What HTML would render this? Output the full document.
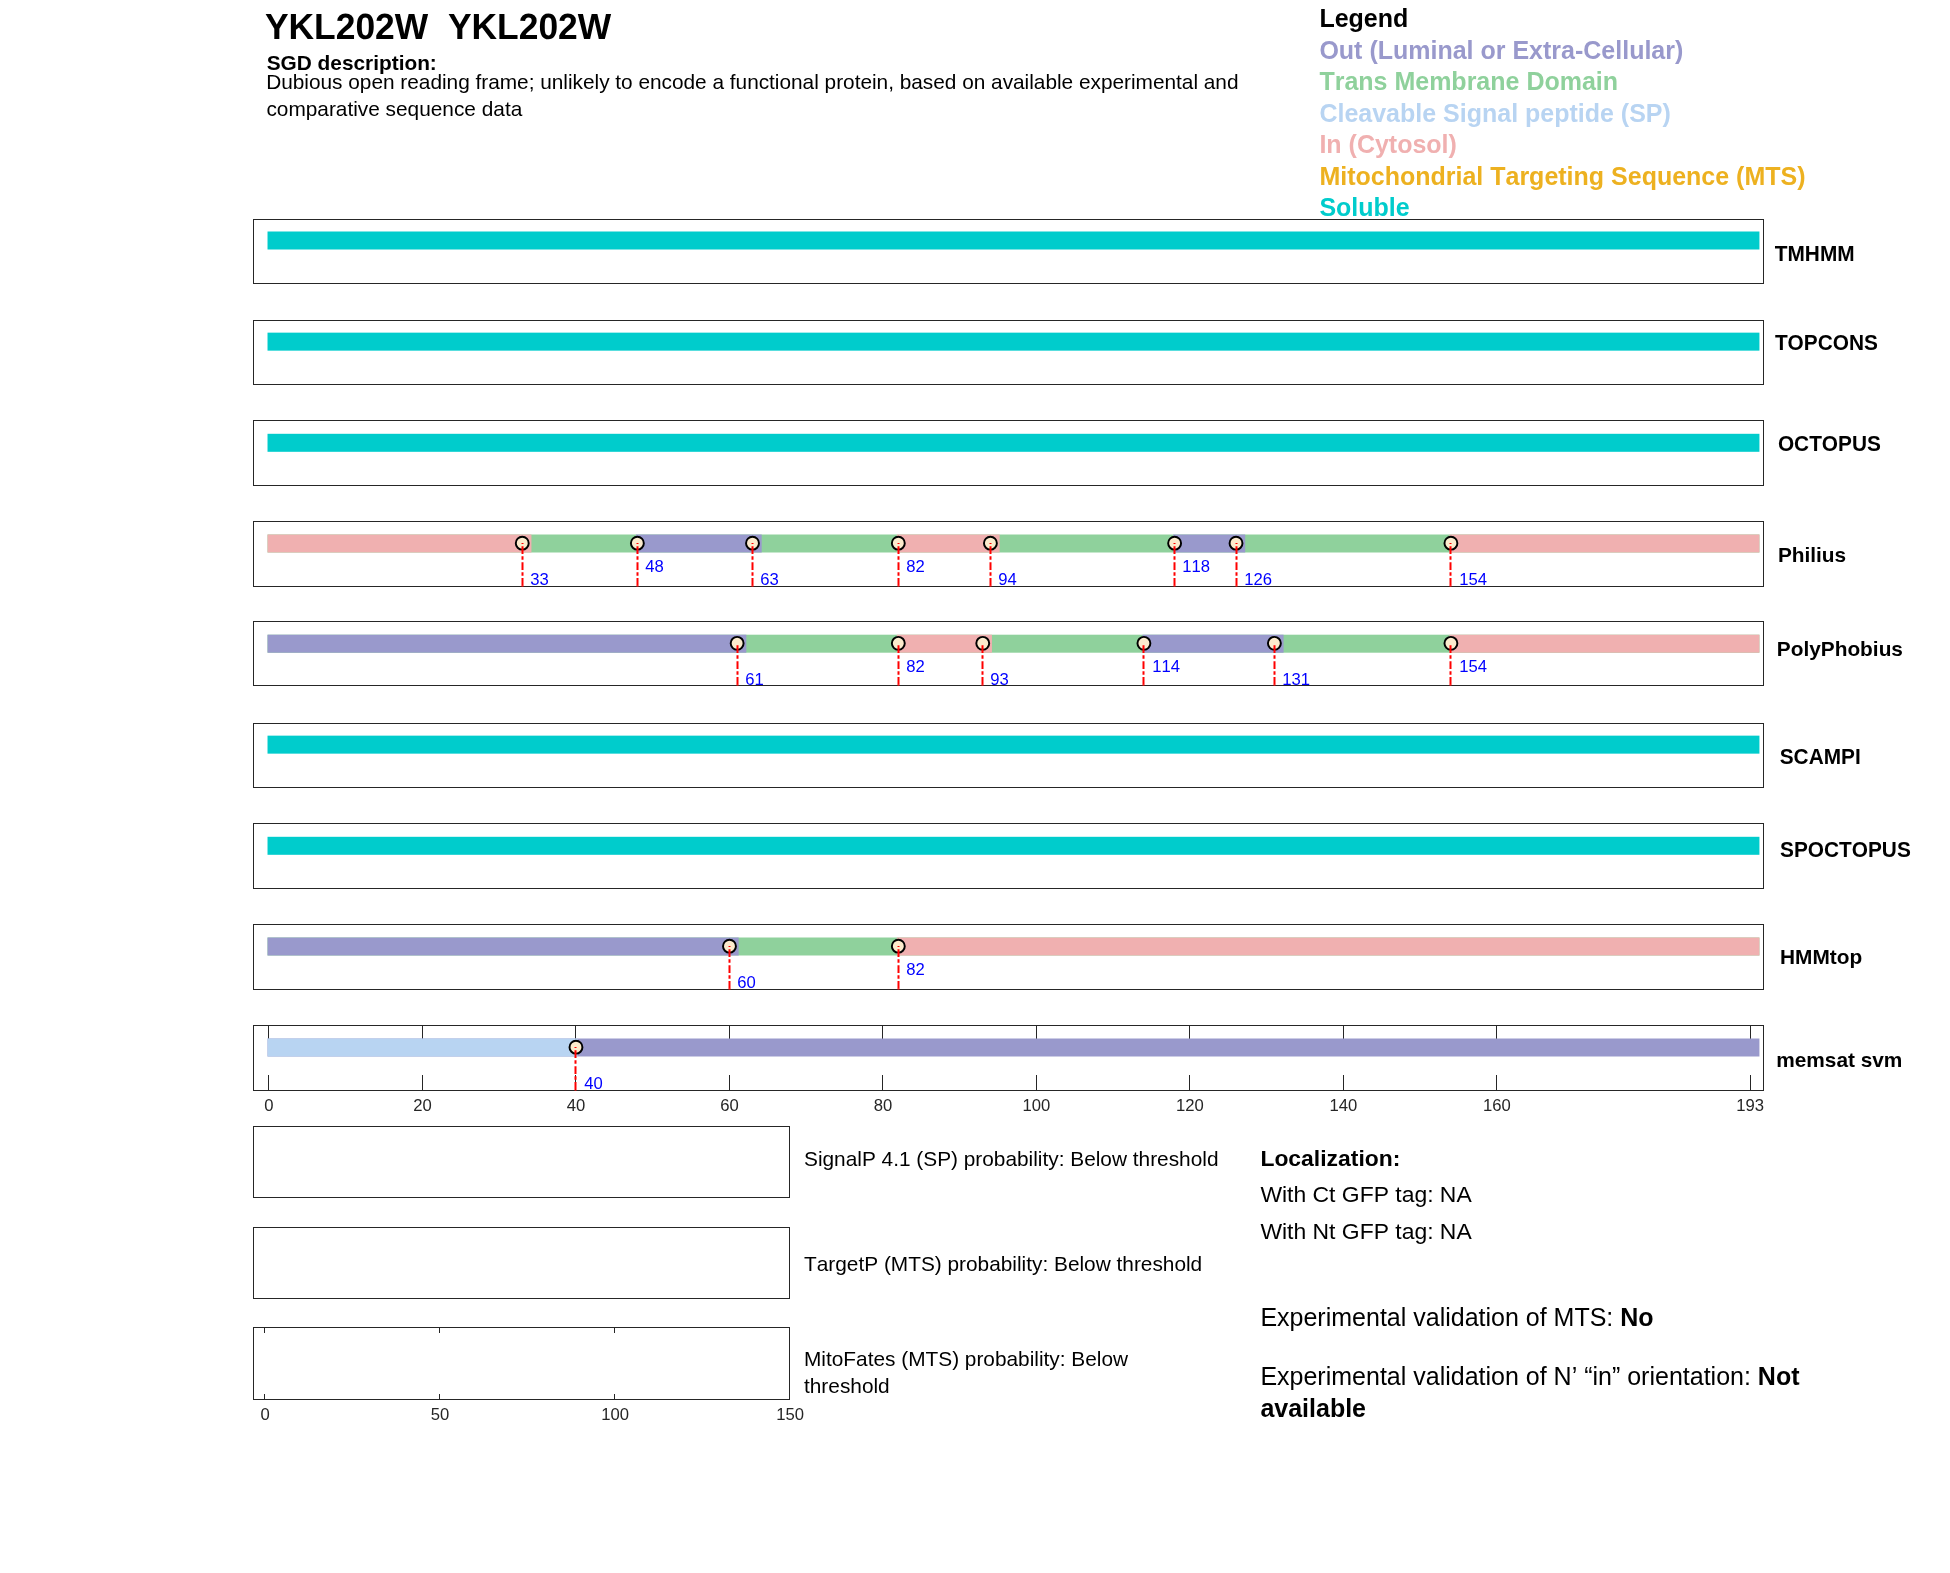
<!DOCTYPE html>
<html lang="en"><head><meta charset="utf-8"><title>YKL202W</title>
<style>html,body{margin:0;padding:0;background:#fff;overflow:hidden}svg{display:block;will-change:transform}text{font-family:"Liberation Sans",sans-serif;font-kerning:none}.b{font-weight:bold}.ax{fill:#262626}.tk{font-size:16.67px;fill:#262626}.ml{font-size:16.67px;fill:#0000ff}.rl{font-size:20.83px;font-weight:bold;fill:#000}.lg{font-size:25px;font-weight:bold}</style></head><body>
<svg width="1950" height="1573" viewBox="0 0 1950 1573">
<rect width="1950" height="1573" fill="#fff"/>
<text transform="translate(264.9,39) scale(1,1.030)" text-rendering="geometricPrecision" class="b" font-size="35.42">YKL202W  YKL202W</text>
<text x="266.7" y="70" class="b" font-size="20.83">SGD description:</text>
<text x="266.2" y="89" font-size="20.83" textLength="972.3" lengthAdjust="spacing">Dubious open reading frame; unlikely to encode a functional protein, based on available experimental and</text>
<text x="266.4" y="116" font-size="20.83">comparative sequence data</text>
<text x="1319.4" y="27" class="lg" fill="#000">Legend</text>
<text x="1319.4" y="59" class="lg" fill="#9999cc">Out (Luminal or Extra-Cellular)</text>
<text x="1319.4" y="90" class="lg" fill="#8fd19c">Trans Membrane Domain</text>
<text x="1319.4" y="122" class="lg" fill="#b8d4f2">Cleavable Signal peptide (SP)</text>
<text x="1319.4" y="153" class="lg" fill="#f0b0b0">In (Cytosol)</text>
<text x="1319.4" y="185" class="lg" fill="#edb120">Mitochondrial Targeting Sequence (MTS)</text>
<text x="1319.4" y="216" class="lg" fill="#00cccc">Soluble</text>
<rect x="253.5" y="219.5" width="1510" height="64" fill="none" stroke="#262626" stroke-width="1"/>
<rect x="267.52" y="231.50" width="1491.90" height="18.00" fill="#00cccc"/>
<text transform="translate(1774.80,261) scale(1,1.040)" class="rl">TMHMM</text>
<rect x="253.5" y="320.5" width="1510" height="64" fill="none" stroke="#262626" stroke-width="1"/>
<rect x="267.52" y="332.65" width="1491.90" height="18.00" fill="#00cccc"/>
<text transform="translate(1774.90,350) scale(1,1.040)" class="rl">TOPCONS</text>
<rect x="253.5" y="420.5" width="1510" height="65" fill="none" stroke="#262626" stroke-width="1"/>
<rect x="267.52" y="433.80" width="1491.90" height="18.00" fill="#00cccc"/>
<text transform="translate(1777.90,451) scale(1,1.040)" class="rl">OCTOPUS</text>
<rect x="253.5" y="521.5" width="1510" height="65" fill="none" stroke="#262626" stroke-width="1"/>
<rect x="267.52" y="534.50" width="1491.90" height="18.00" fill="#8fd19c"/>
<rect x="267.52" y="534.50" width="263.90" height="18.00" fill="#f0b0b0"/>
<rect x="635.92" y="534.50" width="125.75" height="18.00" fill="#9999cc"/>
<rect x="896.87" y="534.50" width="102.73" height="18.00" fill="#f0b0b0"/>
<rect x="1173.17" y="534.50" width="72.03" height="18.00" fill="#9999cc"/>
<rect x="1449.47" y="534.50" width="309.95" height="18.00" fill="#f0b0b0"/>
<circle cx="522.25" cy="543.15" r="6.45" fill="#fcebcd" stroke="#000" stroke-width="1.95"/>
<line x1="522.50" y1="585.85" x2="522.50" y2="543.05" stroke="#ff0000" stroke-width="2" stroke-dasharray="7.75 2.3 3.6 2.3"/>
<rect x="521.50" y="585.60" width="2" height="1" fill="#ff0000"/>
<text transform="translate(530.20,585) scale(1,1.040)" class="ml">33</text>
<circle cx="637.37" cy="543.15" r="6.45" fill="#fcebcd" stroke="#000" stroke-width="1.95"/>
<line x1="637.50" y1="585.85" x2="637.50" y2="543.05" stroke="#ff0000" stroke-width="2" stroke-dasharray="7.75 2.3 3.6 2.3"/>
<rect x="636.50" y="585.60" width="2" height="1" fill="#ff0000"/>
<text transform="translate(645.20,572) scale(1,1.040)" class="ml">48</text>
<circle cx="752.50" cy="543.15" r="6.45" fill="#fcebcd" stroke="#000" stroke-width="1.95"/>
<line x1="752.50" y1="585.85" x2="752.50" y2="543.05" stroke="#ff0000" stroke-width="2" stroke-dasharray="7.75 2.3 3.6 2.3"/>
<rect x="751.50" y="585.60" width="2" height="1" fill="#ff0000"/>
<text transform="translate(760.20,585) scale(1,1.040)" class="ml">63</text>
<circle cx="898.32" cy="543.15" r="6.45" fill="#fcebcd" stroke="#000" stroke-width="1.95"/>
<line x1="898.50" y1="585.85" x2="898.50" y2="543.05" stroke="#ff0000" stroke-width="2" stroke-dasharray="7.75 2.3 3.6 2.3"/>
<rect x="897.50" y="585.60" width="2" height="1" fill="#ff0000"/>
<text transform="translate(906.20,572) scale(1,1.040)" class="ml">82</text>
<circle cx="990.42" cy="543.15" r="6.45" fill="#fcebcd" stroke="#000" stroke-width="1.95"/>
<line x1="990.50" y1="585.85" x2="990.50" y2="543.05" stroke="#ff0000" stroke-width="2" stroke-dasharray="7.75 2.3 3.6 2.3"/>
<rect x="989.50" y="585.60" width="2" height="1" fill="#ff0000"/>
<text transform="translate(998.20,585) scale(1,1.040)" class="ml">94</text>
<circle cx="1174.62" cy="543.15" r="6.45" fill="#fcebcd" stroke="#000" stroke-width="1.95"/>
<line x1="1174.50" y1="585.85" x2="1174.50" y2="543.05" stroke="#ff0000" stroke-width="2" stroke-dasharray="7.75 2.3 3.6 2.3"/>
<rect x="1173.50" y="585.60" width="2" height="1" fill="#ff0000"/>
<text transform="translate(1182.20,572) scale(1,1.040)" class="ml">118</text>
<circle cx="1236.02" cy="543.15" r="6.45" fill="#fcebcd" stroke="#000" stroke-width="1.95"/>
<line x1="1236.50" y1="585.85" x2="1236.50" y2="543.05" stroke="#ff0000" stroke-width="2" stroke-dasharray="7.75 2.3 3.6 2.3"/>
<rect x="1235.50" y="585.60" width="2" height="1" fill="#ff0000"/>
<text transform="translate(1244.20,585) scale(1,1.040)" class="ml">126</text>
<circle cx="1450.92" cy="543.15" r="6.45" fill="#fcebcd" stroke="#000" stroke-width="1.95"/>
<line x1="1450.50" y1="585.85" x2="1450.50" y2="543.05" stroke="#ff0000" stroke-width="2" stroke-dasharray="7.75 2.3 3.6 2.3"/>
<rect x="1449.50" y="585.60" width="2" height="1" fill="#ff0000"/>
<text transform="translate(1459.20,585) scale(1,1.040)" class="ml">154</text>
<text x="1777.9" y="562" class="rl">Philius</text>
<rect x="253.5" y="621.5" width="1510" height="64" fill="none" stroke="#262626" stroke-width="1"/>
<rect x="267.52" y="634.70" width="1491.90" height="18.00" fill="#8fd19c"/>
<rect x="267.52" y="634.70" width="478.80" height="18.00" fill="#9999cc"/>
<rect x="896.87" y="634.70" width="95.05" height="18.00" fill="#f0b0b0"/>
<rect x="1142.47" y="634.70" width="141.10" height="18.00" fill="#9999cc"/>
<rect x="1449.47" y="634.70" width="309.95" height="18.00" fill="#f0b0b0"/>
<circle cx="737.14" cy="643.35" r="6.45" fill="#fcebcd" stroke="#000" stroke-width="1.95"/>
<line x1="737.50" y1="684.85" x2="737.50" y2="643.25" stroke="#ff0000" stroke-width="2" stroke-dasharray="7.75 2.3 3.6 2.3"/>
<rect x="736.50" y="684.60" width="2" height="1" fill="#ff0000"/>
<text transform="translate(745.20,685) scale(1,1.040)" class="ml">61</text>
<circle cx="898.32" cy="643.35" r="6.45" fill="#fcebcd" stroke="#000" stroke-width="1.95"/>
<line x1="898.50" y1="684.85" x2="898.50" y2="643.25" stroke="#ff0000" stroke-width="2" stroke-dasharray="7.75 2.3 3.6 2.3"/>
<rect x="897.50" y="684.60" width="2" height="1" fill="#ff0000"/>
<text transform="translate(906.20,672) scale(1,1.040)" class="ml">82</text>
<circle cx="982.75" cy="643.35" r="6.45" fill="#fcebcd" stroke="#000" stroke-width="1.95"/>
<line x1="982.50" y1="684.85" x2="982.50" y2="643.25" stroke="#ff0000" stroke-width="2" stroke-dasharray="7.75 2.3 3.6 2.3"/>
<rect x="981.50" y="684.60" width="2" height="1" fill="#ff0000"/>
<text transform="translate(990.20,685) scale(1,1.040)" class="ml">93</text>
<circle cx="1143.92" cy="643.35" r="6.45" fill="#fcebcd" stroke="#000" stroke-width="1.95"/>
<line x1="1143.50" y1="684.85" x2="1143.50" y2="643.25" stroke="#ff0000" stroke-width="2" stroke-dasharray="7.75 2.3 3.6 2.3"/>
<rect x="1142.50" y="684.60" width="2" height="1" fill="#ff0000"/>
<text transform="translate(1152.20,672) scale(1,1.040)" class="ml">114</text>
<circle cx="1274.39" cy="643.35" r="6.45" fill="#fcebcd" stroke="#000" stroke-width="1.95"/>
<line x1="1274.50" y1="684.85" x2="1274.50" y2="643.25" stroke="#ff0000" stroke-width="2" stroke-dasharray="7.75 2.3 3.6 2.3"/>
<rect x="1273.50" y="684.60" width="2" height="1" fill="#ff0000"/>
<text transform="translate(1282.20,685) scale(1,1.040)" class="ml">131</text>
<circle cx="1450.92" cy="643.35" r="6.45" fill="#fcebcd" stroke="#000" stroke-width="1.95"/>
<line x1="1450.50" y1="684.85" x2="1450.50" y2="643.25" stroke="#ff0000" stroke-width="2" stroke-dasharray="7.75 2.3 3.6 2.3"/>
<rect x="1449.50" y="684.60" width="2" height="1" fill="#ff0000"/>
<text transform="translate(1459.20,672) scale(1,1.040)" class="ml">154</text>
<text x="1776.8" y="656" class="rl">PolyPhobius</text>
<rect x="253.5" y="723.5" width="1510" height="64" fill="none" stroke="#262626" stroke-width="1"/>
<rect x="267.52" y="735.65" width="1491.90" height="18.00" fill="#00cccc"/>
<text transform="translate(1779.70,764) scale(1,1.040)" class="rl">SCAMPI</text>
<rect x="253.5" y="823.5" width="1510" height="65" fill="none" stroke="#262626" stroke-width="1"/>
<rect x="267.52" y="836.80" width="1491.90" height="18.00" fill="#00cccc"/>
<text transform="translate(1780.00,857) scale(1,1.040)" class="rl">SPOCTOPUS</text>
<rect x="253.5" y="924.5" width="1510" height="65" fill="none" stroke="#262626" stroke-width="1"/>
<rect x="267.52" y="937.50" width="1491.90" height="18.00" fill="#8fd19c"/>
<rect x="267.52" y="937.50" width="471.12" height="18.00" fill="#9999cc"/>
<rect x="896.87" y="937.50" width="862.55" height="18.00" fill="#f0b0b0"/>
<circle cx="729.47" cy="946.15" r="6.45" fill="#fcebcd" stroke="#000" stroke-width="1.95"/>
<line x1="729.50" y1="988.85" x2="729.50" y2="946.05" stroke="#ff0000" stroke-width="2" stroke-dasharray="7.75 2.3 3.6 2.3"/>
<rect x="728.50" y="988.60" width="2" height="1" fill="#ff0000"/>
<text transform="translate(737.20,988) scale(1,1.040)" class="ml">60</text>
<circle cx="898.32" cy="946.15" r="6.45" fill="#fcebcd" stroke="#000" stroke-width="1.95"/>
<line x1="898.50" y1="988.85" x2="898.50" y2="946.05" stroke="#ff0000" stroke-width="2" stroke-dasharray="7.75 2.3 3.6 2.3"/>
<rect x="897.50" y="988.60" width="2" height="1" fill="#ff0000"/>
<text transform="translate(906.20,975) scale(1,1.040)" class="ml">82</text>
<text x="1780.0" y="964" class="rl">HMMtop</text>
<rect x="268" y="1026" width="1" height="14" class="ax"/>
<rect x="268" y="1075" width="1" height="15" class="ax"/>
<text transform="translate(268.97,1111) scale(1,1.040)" class="tk" text-anchor="middle">0</text>
<rect x="422" y="1026" width="1" height="14" class="ax"/>
<rect x="422" y="1075" width="1" height="15" class="ax"/>
<text transform="translate(422.47,1111) scale(1,1.040)" class="tk" text-anchor="middle">20</text>
<rect x="575" y="1026" width="1" height="14" class="ax"/>
<rect x="575" y="1075" width="1" height="15" class="ax"/>
<text transform="translate(575.97,1111) scale(1,1.040)" class="tk" text-anchor="middle">40</text>
<rect x="729" y="1026" width="1" height="14" class="ax"/>
<rect x="729" y="1075" width="1" height="15" class="ax"/>
<text transform="translate(729.47,1111) scale(1,1.040)" class="tk" text-anchor="middle">60</text>
<rect x="882" y="1026" width="1" height="14" class="ax"/>
<rect x="882" y="1075" width="1" height="15" class="ax"/>
<text transform="translate(882.97,1111) scale(1,1.040)" class="tk" text-anchor="middle">80</text>
<rect x="1036" y="1026" width="1" height="14" class="ax"/>
<rect x="1036" y="1075" width="1" height="15" class="ax"/>
<text transform="translate(1036.47,1111) scale(1,1.040)" class="tk" text-anchor="middle">100</text>
<rect x="1189" y="1026" width="1" height="14" class="ax"/>
<rect x="1189" y="1075" width="1" height="15" class="ax"/>
<text transform="translate(1189.97,1111) scale(1,1.040)" class="tk" text-anchor="middle">120</text>
<rect x="1343" y="1026" width="1" height="14" class="ax"/>
<rect x="1343" y="1075" width="1" height="15" class="ax"/>
<text transform="translate(1343.47,1111) scale(1,1.040)" class="tk" text-anchor="middle">140</text>
<rect x="1496" y="1026" width="1" height="14" class="ax"/>
<rect x="1496" y="1075" width="1" height="15" class="ax"/>
<text transform="translate(1496.97,1111) scale(1,1.040)" class="tk" text-anchor="middle">160</text>
<rect x="1750" y="1026" width="1" height="14" class="ax"/>
<rect x="1750" y="1075" width="1" height="15" class="ax"/>
<text transform="translate(1750.24,1111) scale(1,1.040)" class="tk" text-anchor="middle">193</text>
<rect x="253.5" y="1025.5" width="1510" height="65" fill="none" stroke="#262626" stroke-width="1"/>
<rect x="267.52" y="1038.50" width="1491.90" height="18.00" fill="#9999cc"/>
<rect x="267.52" y="1038.50" width="309.95" height="18.00" fill="#b8d4f2"/>
<circle cx="575.97" cy="1047.15" r="6.45" fill="#fcebcd" stroke="#000" stroke-width="1.95"/>
<line x1="575.50" y1="1089.85" x2="575.50" y2="1047.05" stroke="#ff0000" stroke-width="2" stroke-dasharray="7.75 2.3 3.6 2.3"/>
<rect x="574.50" y="1089.60" width="2" height="1" fill="#ff0000"/>
<text transform="translate(584.20,1089) scale(1,1.040)" class="ml">40</text>
<text x="1776.2" y="1067" class="rl">memsat svm</text>
<rect x="253.5" y="1126.5" width="536" height="71" fill="none" stroke="#262626" stroke-width="1"/>
<rect x="253.5" y="1227.5" width="536" height="71" fill="none" stroke="#262626" stroke-width="1"/>
<rect x="253.5" y="1327.5" width="536" height="72" fill="none" stroke="#262626" stroke-width="1"/>
<rect x="264" y="1328" width="1" height="5" class="ax"/>
<rect x="264" y="1394" width="1" height="5" class="ax"/>
<rect x="439" y="1328" width="1" height="5" class="ax"/>
<rect x="439" y="1394" width="1" height="5" class="ax"/>
<rect x="614" y="1328" width="1" height="5" class="ax"/>
<rect x="614" y="1394" width="1" height="5" class="ax"/>
<text transform="translate(265.10,1420) scale(1,1.040)" class="tk" text-anchor="middle">0</text>
<text transform="translate(440.10,1420) scale(1,1.040)" class="tk" text-anchor="middle">50</text>
<text transform="translate(615.10,1420) scale(1,1.040)" class="tk" text-anchor="middle">100</text>
<text transform="translate(790.10,1420) scale(1,1.040)" class="tk" text-anchor="middle">150</text>
<text x="804" y="1166" font-size="20.83">SignalP 4.1 (SP) probability: Below threshold</text>
<text x="804" y="1271" font-size="20.83">TargetP (MTS) probability: Below threshold</text>
<text x="804" y="1366" font-size="20.83">MitoFates (MTS) probability: Below</text>
<text x="804" y="1393" font-size="20.83">threshold</text>
<text x="1260.4" y="1166" class="b" font-size="22.92">Localization:</text>
<text x="1260.4" y="1202.3" font-size="22.92">With Ct GFP tag: NA</text>
<text x="1260.4" y="1239.2" font-size="22.92">With Nt GFP tag: NA</text>
<text x="1260.4" y="1326" font-size="25">Experimental validation of MTS: <tspan class="b">No</tspan></text>
<text x="1260.4" y="1385.4" font-size="25">Experimental validation of N’ “in” orientation: <tspan class="b">Not</tspan></text>
<text x="1260.4" y="1416.8" font-size="25" class="b">available</text>
</svg></body></html>
